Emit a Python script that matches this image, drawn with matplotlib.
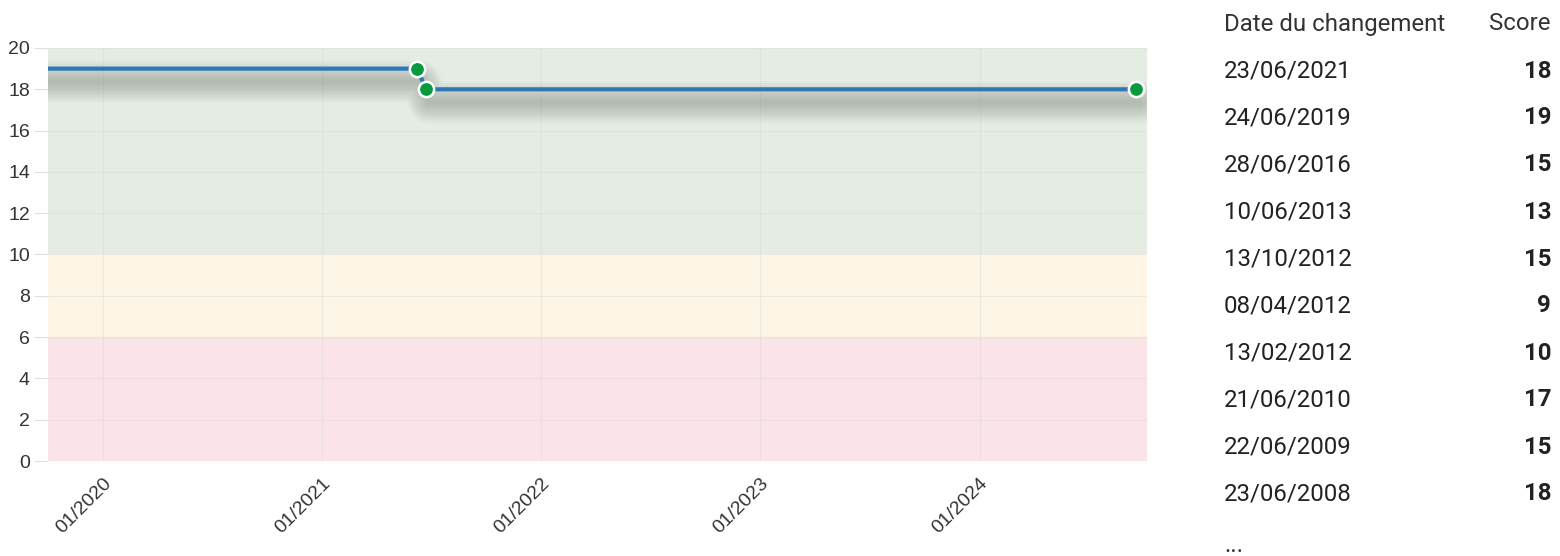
import numpy as np
import pandas as pd
import matplotlib
matplotlib.use('Agg')
import matplotlib.pyplot as plt
import matplotlib.dates as mdates
from matplotlib.transforms import offset_copy

# Score history (chart)
dates = pd.to_datetime(['2019-06-24', '2021-06-08', '2021-06-23', '2024-09-18'])
scores = [19, 19, 18, 18]
marker_dates = dates[1:]
marker_scores = scores[1:]

# Score bands
bands = [(0, 6, '#fae4e8'), (6, 10, '#fdf5e6'), (10, 20, '#e5ece4')]

# Change table
change_dates = ['23/06/2021', '24/06/2019', '28/06/2016', '10/06/2013', '13/10/2012',
                '08/04/2012', '13/02/2012', '21/06/2010', '22/06/2009', '23/06/2008']
change_scores = [18, 19, 15, 13, 15, 9, 10, 17, 15, 18]

x_start = pd.Timestamp('2019-10-02')
x_end = pd.Timestamp('2024-10-06')

fig = plt.figure(figsize=(15.6, 5.56), dpi=100)
ax = fig.add_axes([48 / 1560, 1 - 461 / 556, (1147 - 48) / 1560, (461 - 48) / 556])

for lo, hi, col in bands:
    ax.axhspan(lo, hi, color=col, zorder=0, lw=0)

ax.grid(True, color='#d8d8d8', lw=0.8, alpha=0.4, zorder=1)

# soft drop shadow under the line
tr = offset_copy(ax.transData, fig=fig, x=3, y=-13, units='dots')
for w in np.linspace(30, 4, 14):
    ax.plot(dates, scores, color='#4a564a', lw=w, alpha=0.022,
            solid_capstyle='round', solid_joinstyle='round', transform=tr, zorder=2)

ax.plot(dates, scores, color='#2e78b8', lw=3, zorder=3)
ax.plot(marker_dates, marker_scores, 'o', ms=11, color='#089a3c',
        mec='white', mew=1.8, zorder=4)

ax.set_xlim(x_start, x_end)
ax.set_ylim(0, 20)
ax.set_yticks(range(0, 21, 2))
ax.xaxis.set_major_locator(mdates.YearLocator())
ax.xaxis.set_major_formatter(mdates.DateFormatter('%m/%Y'))
for s in ax.spines.values():
    s.set_visible(False)
ax.tick_params(axis='y', length=10, color='#e0e0e0', labelsize=14,
               labelcolor='#333333', pad=3)
ax.tick_params(axis='x', length=0, labelsize=14, labelcolor='#333333', pad=10)
for lbl in ax.get_yticklabels():
    lbl.set_fontfamily('Liberation Sans')
for lbl in ax.get_xticklabels():
    lbl.set_fontfamily('Liberation Sans')
    lbl.set_rotation(45)
    lbl.set_ha('right')
    lbl.set_va('top')
    lbl.set_rotation_mode('anchor')

# table on the right
tx_left = 1224 / 1560
tx_right = 1551 / 1560
fs = 17.3
fig.text(tx_left, 1 - 24 / 556, 'Date du changement', fontsize=fs, family='Roboto',
         color='#333333', va='center', ha='left')
fig.text(tx_right, 1 - 24 / 556, 'Score', fontsize=fs, family='Roboto',
         color='#333333', va='center', ha='right')
for i, (d, s) in enumerate(zip(change_dates, change_scores)):
    y = 1 - (71 + 47 * i) / 556
    fig.text(tx_left, y, d, fontsize=fs, family='Roboto', color='#222222',
             va='center', ha='left')
    fig.text(tx_right, y, str(s), fontsize=fs, family='Roboto', fontweight='bold',
             color='#222222', va='center', ha='right')
fig.text(tx_left, 1 - 545 / 556, '...', fontsize=fs, family='Roboto',
         color='#333333', va='center', ha='left')

fig.savefig('out.png', dpi=100)
